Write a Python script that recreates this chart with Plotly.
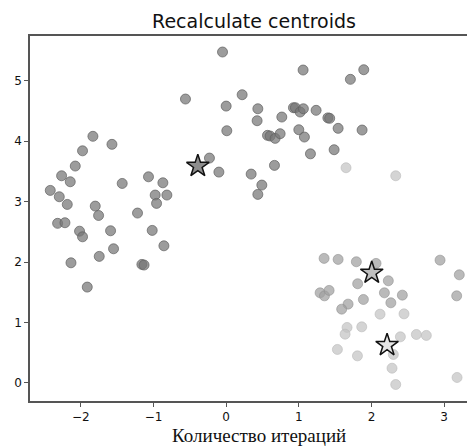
import plotly.graph_objects as go

# Cluster 1 (left + top groups)
c1_x = [-1.834, -1.572, -1.977, -2.077, -2.265, -2.146, -1.431, -1.069, -0.871, -2.421,
        -2.297, -0.977, -0.816, -0.958, -2.187, -1.802, -1.756, -1.22, -2.32, -2.219,
        -2.018, -1.977, -1.591, -1.018, -1.55, -0.857, -1.747, -2.136, -1.16, -1.13, -1.912,
        -0.05, 1.059, 1.71, 1.894, -0.56, 0.22, 0.0, 0.436, 0.426, 0.766, 0.926, 0.953,
        1.018, 1.063, 1.238, 1.40, 1.425, 1.541, 1.871, 0.009, 0.569, 0.605, 0.674, 0.743,
        1.0, 1.077, 1.16, 1.486, -0.23, -0.1, 0.344, 0.665, 0.491, 0.436]
c1_y = [4.08, 3.947, 3.84, 3.588, 3.427, 3.328, 3.30, 3.41, 3.311, 3.185,
        3.08, 3.108, 3.108, 2.97, 2.953, 2.925, 2.77, 2.81, 2.64, 2.65,
        2.51, 2.417, 2.517, 2.523, 2.219, 2.268, 2.093, 1.987, 1.96, 1.95, 1.585,
        5.475, 5.177, 5.023, 5.182, 4.697, 4.768, 4.58, 4.536, 4.338, 4.399, 4.553, 4.553,
        4.482, 4.536, 4.51, 4.385, 4.378, 4.212, 4.184, 4.172, 4.096, 4.085, 4.046, 4.123,
        4.189, 4.068, 3.79, 3.858, 3.72, 3.488, 3.455, 3.599, 3.273, 3.119]

# Cluster 2
c2_x = [1.348, 1.541, 1.792, 2.063, 2.944, 3.209, 1.81, 2.232, 1.293, 1.353, 1.417,
        2.178, 2.425, 3.173, 1.889, 2.267, 1.678, 1.59]
c2_y = [2.06, 2.043, 2.004, 1.977, 2.031, 1.788, 1.64, 1.689, 1.49, 1.44, 1.53,
        1.49, 1.452, 1.44, 1.38, 1.325, 1.303, 1.22]

# Cluster 3
c3_x = [1.65, 2.334, 2.118, 2.448, 1.664, 1.637, 1.866, 2.398, 2.618, 2.755,
        1.531, 1.807, 2.301, 2.283, 2.334, 3.178]
c3_y = [3.56, 3.427, 1.137, 1.142, 0.917, 0.806, 0.927, 0.762, 0.801, 0.785,
        0.553, 0.447, 0.47, 0.243, -0.027, 0.089]

# Centroids
cent_x = [-0.39, 2.004, 2.215]
cent_y = [3.588, 1.821, 0.624]

x_ticks = [-2, -1, 0, 1, 2, 3]
y_ticks = [0, 1, 2, 3, 4, 5]

fig = go.Figure()
for xs, ys, fill, edge in [
    (c1_x, c1_y, "rgba(118,118,118,0.72)", "rgba(95,95,95,0.7)"),
    (c2_x, c2_y, "rgba(160,160,160,0.72)", "rgba(145,145,145,0.6)"),
    (c3_x, c3_y, "rgba(196,196,196,0.72)", "rgba(185,185,185,0.6)"),
]:
    fig.add_trace(go.Scatter(x=xs, y=ys, mode="markers",
                             marker=dict(size=10, color=fill, line=dict(color=edge, width=1)),
                             showlegend=False, hoverinfo="skip"))

fig.add_trace(go.Scatter(x=cent_x, y=cent_y, mode="markers",
                         marker=dict(symbol="star", size=17,
                                     color=["#8d8d8d", "#c0c0c0", "#e4e4e4"],
                                     line=dict(color="#111111", width=1.5)),
                         showlegend=False, hoverinfo="skip"))

axis_common = dict(showgrid=False, zeroline=False, showline=True, linecolor="#555555",
                   linewidth=1.5, ticks="outside", ticklen=4, tickwidth=1, tickcolor="#555555",
                   automargin=False,
                   tickfont=dict(family="DejaVu Sans", size=12, color="#111111"))

fig.update_layout(
    width=467, height=446,
    margin=dict(l=30, r=0, t=36, b=45, autoexpand=False),
    paper_bgcolor="white", plot_bgcolor="white",
    title=dict(text="Recalculate centroids", x=254 / 467, xref="container", xanchor="center",
               y=1 - 21 / 446, yref="container", yanchor="middle",
               font=dict(family="DejaVu Sans", size=19, color="#111111")),
    xaxis=dict(range=[-2.70, 3.315], tickvals=x_ticks, mirror=True, **axis_common),
    yaxis=dict(range=[-0.30, 5.74], tickvals=y_ticks, mirror=False, **axis_common),
    annotations=[dict(text="Количество итераций", xref="paper", yref="paper",
                      x=(259 - 30) / 437, y=-(435.5 - 401) / 365, xanchor="center", yanchor="middle",
                      showarrow=False,
                      font=dict(family="Liberation Serif", size=19, color="#111111"))],
)

fig.write_html("out.html", config={"displayModeBar": False},
               post_script="document.body.style.margin='0';document.body.style.overflow='hidden';")
